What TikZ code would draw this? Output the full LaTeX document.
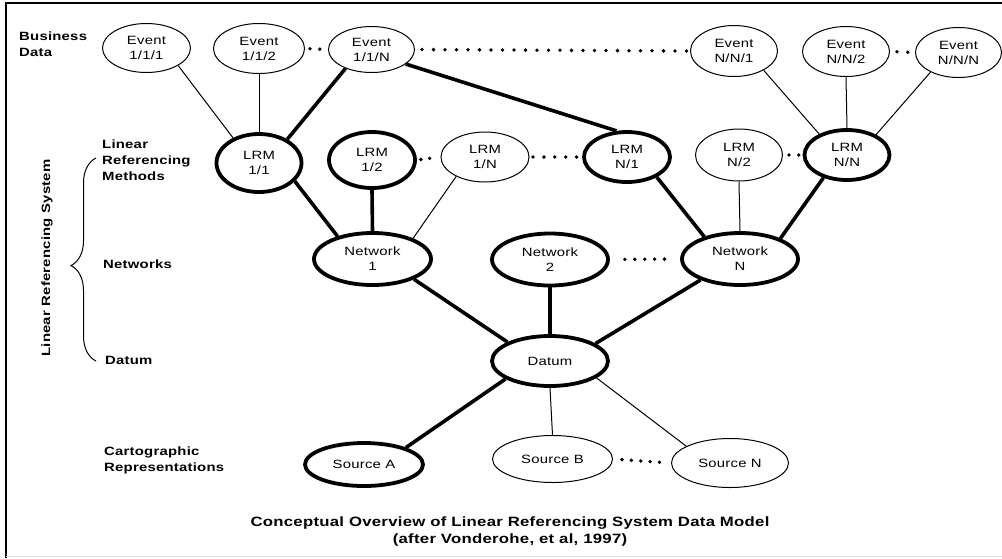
\documentclass[tikz,border=0pt]{standalone}
\usepackage{fontspec}
\setmainfont{Liberation Sans}[FakeStretch=1.24, LetterSpace=2]
\usetikzlibrary{shapes.geometric, decorations.pathreplacing}

\tikzset{
  ov/.style={ellipse, draw, line width=1pt, inner sep=0pt, align=center,
    font=\fontsize{12}{15}\selectfont},
  ovthick/.style={ov, line width=3.8pt},
  lnthin/.style={line width=1pt},
  lnthick/.style={line width=3.6pt},
  lbl/.style={anchor=north west, inner sep=0pt, align=left,
    font=\bfseries\fontsize{12}{16}\selectfont},
  dotrow/.style={line width=3.8pt, line cap=round, dash pattern=on 0pt off #1},
}

\begin{document}
\begin{tikzpicture}[x=1pt, y=-1pt]
\useasboundingbox (0,0) rectangle (1002,558);

% frame
\draw[line width=1.3pt] (6,558) -- (6,3) -- (1002,3);
\draw[black!12, line width=1pt] (6,556.5) -- (1002,556.5);

% row labels
\node[lbl] (lbusiness) at (19,31.5) {Business\\Data};
\node[lbl] (llrm) at (102,139.5) {Linear\\Referencing\\Methods};
\node[lbl] (lnet) at (103,259.5) {Networks};
\node[lbl] (ldatum) at (105,356.5) {Datum};
\node[lbl] (lcarto) at (104,446.5) {Cartographic\\Representations};
\node[rotate=90, inner sep=0pt, font=\bfseries\fontsize{12}{14}\selectfont] (lsys) at (47,258) {Linear Referencing System};
\draw[lnthin, decorate, decoration={brace, amplitude=25pt, aspect=0.47}] (96,361) -- (96,158);

% business data events
\node[ov, minimum width=88pt, minimum height=49pt] (e111) at (146.5,48) {Event\\1/1/1};
\node[ov, minimum width=91pt, minimum height=50pt] (e112) at (259,48.5) {Event\\1/1/2};
\node[ov, minimum width=86pt, minimum height=46pt] (e11n) at (371.5,49.5) {Event\\1/1/N};
\node[ov, minimum width=87pt, minimum height=51pt] (en1) at (734,51) {Event\\N/N/1};
\node[ov, minimum width=87pt, minimum height=50pt] (en2) at (846,51.5) {Event\\N/N/2};
\node[ov, minimum width=86pt, minimum height=50pt] (enn) at (958.5,52.5) {Event\\N/N/N};

% linear referencing methods
\node[ovthick, minimum width=85pt, minimum height=58pt] (lrm11) at (259,163) {LRM\\1/1};
\node[ovthick, minimum width=86pt, minimum height=56pt] (lrm12) at (372,160) {LRM\\1/2};
\node[ov, minimum width=88pt, minimum height=50pt] (lrm1n) at (485,157) {LRM\\1/N};
\node[ovthick, minimum width=86pt, minimum height=50pt] (lrmn1) at (627,157) {LRM\\N/1};
\node[ov, minimum width=87pt, minimum height=52pt] (lrmn2) at (739,155) {LRM\\N/2};
\node[ovthick, minimum width=85pt, minimum height=50pt] (lrmnn) at (847,155) {LRM\\N/N};

% networks
\node[ovthick, minimum width=117pt, minimum height=52pt] (net1) at (372.5,259) {Network\\1};
\node[ovthick, minimum width=116pt, minimum height=52pt] (net2) at (550,259.5) {Network\\2};
\node[ovthick, minimum width=116pt, minimum height=52pt] (netn) at (740,259) {Network\\N};

% datum
\node[ovthick, minimum width=116pt, minimum height=50pt] (datum) at (550,361) {Datum};

% cartographic sources
\node[ovthick, minimum width=118pt, minimum height=43pt] (srca) at (364,464.5) {Source A};
\node[ov, minimum width=120pt, minimum height=47pt] (srcb) at (552.5,459) {Source B};
\node[ov, minimum width=117pt, minimum height=49pt] (srcn) at (730,463) {Source N};

% caption
\node[anchor=north, inner sep=0pt, align=center,
  font=\bfseries\fontsize{13.5}{17}\selectfont] (title) at (510,516.5)
  {Conceptual Overview of Linear Referencing System Data Model\\(after Vonderohe, et al, 1997)};

% events to methods
\draw[lnthin] (e111.-29) -- (lrm11.136);
\draw[lnthin] (e112.south) -- (lrm11.north);
\draw[lnthick] (e11n.-144) -- (lrm11.40);
\draw[lnthick] (e11n.-23) -- (lrmn1.112);
\draw[lnthin] (en1.-33) -- (lrmnn.143);
\draw[lnthin] (en2.south) -- (lrmnn.north);
\draw[lnthin] (enn.-145) -- (lrmnn.35);

% methods to networks
\draw[lnthick] (lrm11.-27) -- (net1.147);
\draw[lnthick] (lrm12.south) -- (net1.north);
\draw[lnthin] (lrm1n.-146) -- (net1.27);
\draw[lnthick] (lrmn1.-34) -- (netn.148);
\draw[lnthin] (lrmn2.south) -- (netn.north);
\draw[lnthick] (lrmnn.-136) -- (netn.27);

% networks to datum
\draw[lnthick] (net1.-26) -- (datum.156);
\draw[lnthick] (net2.south) -- (datum.north);
\draw[lnthick] (netn.-152) -- (datum.21);

% datum to sources
\draw[lnthick] (datum.-158) -- (srca.22);
\draw[lnthin] (datum.south) -- (srcb.north);
\draw[lnthin] (datum.-20) -- (srcn.159);

% elided members
\draw[dotrow=9.8pt, shorten <=5pt, shorten >=8pt] (e112.east) -- (e11n.west);
\draw[dotrow=11.5pt, shorten <=7pt, shorten >=3pt] (e11n.east) -- (en1.west);
\draw[dotrow=10.8pt, shorten <=7pt, shorten >=7pt] (en2.east) -- (enn.west);
\draw[dotrow=8.8pt, shorten <=4pt, shorten >=10.5pt] (lrm12.east) -- (lrm1n.west);
\draw[dotrow=10.9pt, shorten <=3.5pt, shorten >=5pt] (lrm1n.east) -- (lrmn1.west);
\draw[dotrow=9.8pt, shorten <=6pt, shorten >=3.6pt] (lrmn2.east) -- (lrmnn.west);
\draw[dotrow=9.9pt, shorten <=15pt, shorten >=15pt] (net2.east) -- (netn.west);
\draw[dotrow=9.4pt, shorten <=9pt, shorten >=11pt] (srcb.east) -- (srcn.west);
\end{tikzpicture}
\end{document}
